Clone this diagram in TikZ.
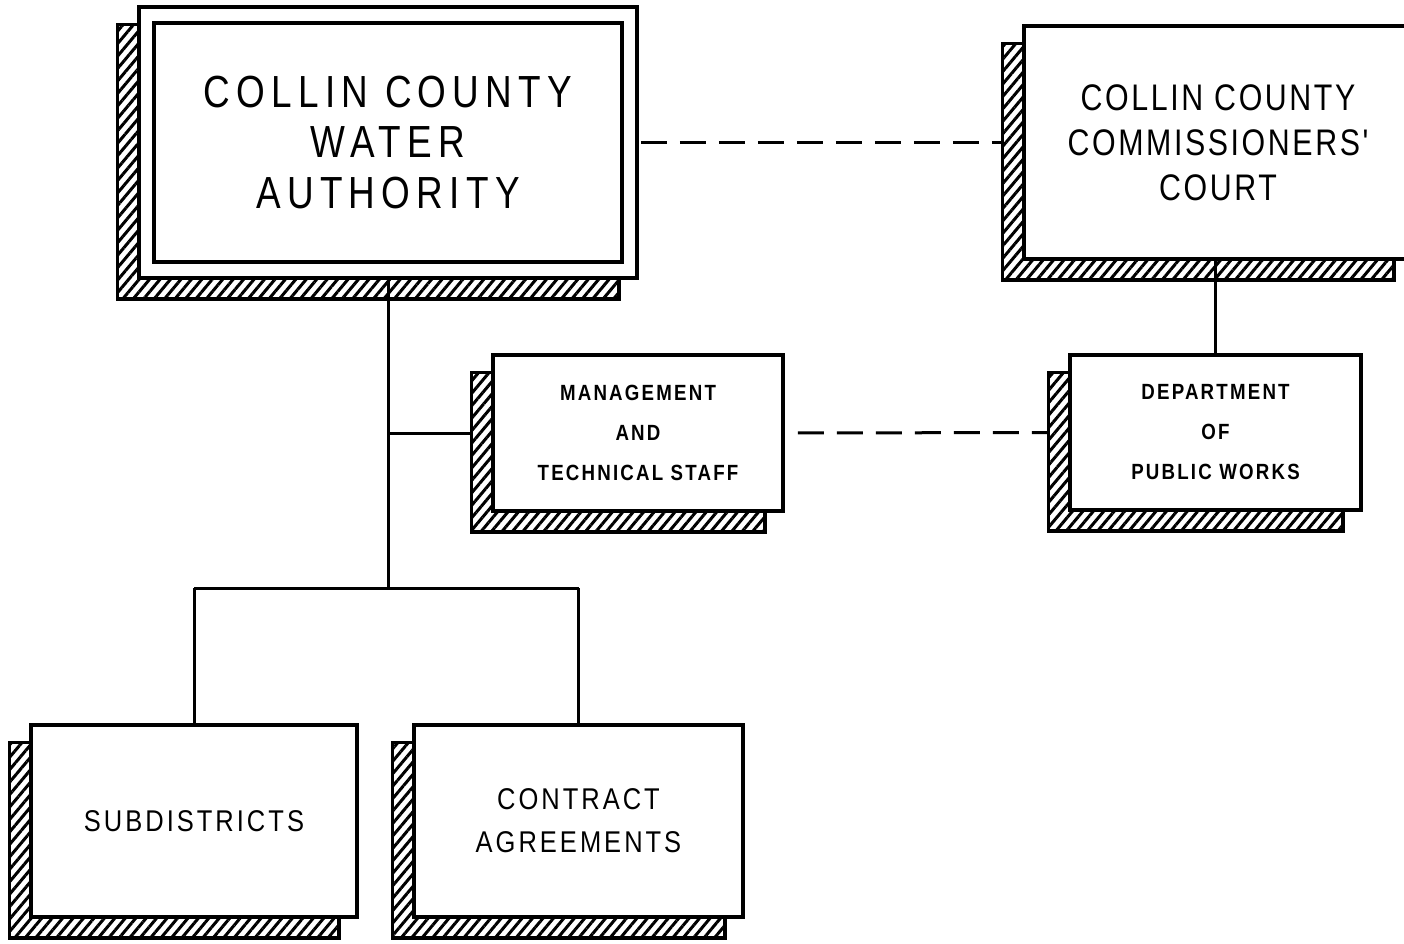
\documentclass[tikz,border=0pt]{standalone}
\usepackage{fontspec}
\setmainfont{Liberation Sans}
\newfontfamily\cad[FakeStretch=0.82,LetterSpace=14]{Liberation Sans}
\newfontfamily\cadmid[FakeStretch=0.82,LetterSpace=7]{Liberation Sans}
\newfontfamily\cadsm[FakeStretch=0.85,LetterSpace=10]{Liberation Sans}
\usetikzlibrary{patterns.meta,backgrounds}
\begin{document}
\begin{tikzpicture}[x=1pt,y=-1pt,
  box/.style={draw, line width=3.8pt, fill=white, inner sep=0pt, rectangle, align=center},
  shad/.style={draw, line width=3.2pt, pattern={Lines[angle=50,distance=8pt,line width=3pt]}},
  conn/.style={line width=3pt},
  dconn/.style={line width=3pt, dash pattern=on 26pt off 13pt},
  bigtxt/.style={font={\cad\fontsize{45}{50.5}\selectfont}},
  midtxt/.style={font={\cadmid\fontsize{37}{45}\selectfont}},
  smtxt/.style={font={\cadsm\bfseries\fontsize{22}{40}\selectfont}},
  subtxt/.style={font={\cadsm\fontsize{30}{43}\selectfont}}]
\clip (0,0) rectangle (1404,943);
% boxes
\node[box, bigtxt, minimum width=498pt, minimum height=271pt] (ccwa) at (388,142.5) {COLLIN COUNTY\\WATER\\AUTHORITY};
\draw[line width=3.8pt] ([shift={(17,18)}]ccwa.north west) rectangle ([shift={(-17,-18)}]ccwa.south east);
\node[box, midtxt, minimum width=388pt, minimum height=233pt] (cccc) at (1218,142.5) {COLLIN COUNTY\\COMMISSIONERS'\\COURT};
\node[box, smtxt, minimum width=290pt, minimum height=156pt] (mgmt) at (638,433) {MANAGEMENT\\AND\\TECHNICAL STAFF};
\node[box, smtxt, minimum width=291pt, minimum height=155pt] (dept) at (1215.5,432.5) {DEPARTMENT\\OF\\PUBLIC WORKS};
\node[box, subtxt, minimum width=326pt, minimum height=192pt] (sub) at (194,821) {SUBDISTRICTS};
\node[box, subtxt, minimum width=329pt, minimum height=192pt] (con) at (578.5,821) {CONTRACT\\AGREEMENTS};
% shadows
\begin{scope}[on background layer]
\foreach \n in {ccwa,cccc,mgmt,dept,sub,con}{
  \path[shad] ([shift={(-20,19)}]\n.north west) rectangle ([shift={(-20,19)}]\n.south east);
}
\end{scope}
% connectors
\coordinate (jy) at (0,588);
\coordinate (j) at (ccwa.south |- jy);
\coordinate (m) at (ccwa.south |- mgmt.west);
\draw[conn] (ccwa.south) -- (j);
\draw[conn] (m) -- ([xshift=-20pt]mgmt.west);
\draw[conn] (sub.north |- j) -- (con.north |- j);
\draw[conn] (sub.north |- j) -- (sub.north);
\draw[conn] (con.north |- j) -- (con.north);
\draw[conn] (cccc.south -| dept.north) -- (dept.north);
\draw[dconn, dash phase=-2pt] (ccwa.east) -- ([xshift=-20pt]cccc.west);
\draw[dconn, dash phase=26pt] (mgmt.east) -- ([xshift=-20pt]dept.west);
\end{tikzpicture}
\end{document}
